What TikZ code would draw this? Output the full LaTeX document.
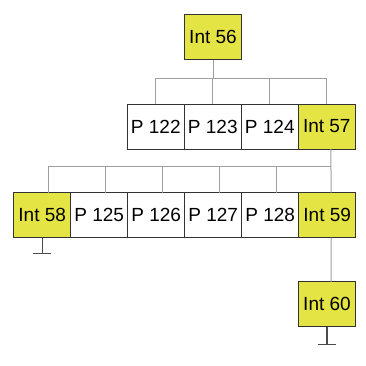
\documentclass[tikz,border=0pt]{standalone}
\usepackage{fontspec}
\setmainfont{Liberation Sans}
\usetikzlibrary{positioning}

\definecolor{intyellow}{HTML}{E4E444}
\tikzset{
  cell/.style={draw=black!80, line width=0.9pt, minimum width=57pt, minimum height=45pt,
    inner sep=0pt, outer sep=0pt, font=\fontsize{19}{19}\selectfont},
  intcell/.style={cell, fill=intyellow},
  pcell/.style={cell, fill=white},
  link/.style={draw=black!38, line width=1pt},
  ground/.style={draw=black!70, line width=1.3pt},
}

\begin{document}
\begin{tikzpicture}[x=1pt, y=-1pt, node distance=0pt]
    \useasboundingbox (0,0) rectangle (366,365);
    % top level
    \node[intcell] (int56) at (213,37) {Int 56};
    % second row
    \node[pcell] (p122) at (155.8,126.5) {P 122};
    \node[pcell, right=of p122] (p123) {P 123};
    \node[pcell, right=of p123] (p124) {P 124};
    \node[intcell, right=of p124] (int57) {Int 57};
    % third row
    \node[intcell] (int58) at (42.2,215.2) {Int 58};
    \node[pcell, right=of int58] (p125) {P 125};
    \node[pcell, right=of p125] (p126) {P 126};
    \node[pcell, right=of p126] (p127) {P 127};
    \node[pcell, right=of p127] (p128) {P 128};
    \node[intcell, right=of p128] (int59) {Int 59};
    % last one
    \node[intcell] (int60) at (327,304.3) {Int 60};

    % links from Int 56
    \coordinate (busA) at (213,78);
    \draw[link] (int56.south) -- (busA);
    \draw[link] (busA -| p122.north) -- (busA -| int57.north);
    \foreach \n in {p122,p123,p124,int57}
        \draw[link] (busA -| \n.north) -- (\n.north);

    % links from Int 57
    \foreach \n in {int58,p125,p126,p127,p128}
        \coordinate (\n-in) at ([xshift=6pt]\n.north);
    \coordinate (int59-in) at ([xshift=4pt]int59.north);
    \coordinate (int57-out) at ([xshift=4pt]int57.south);
    \coordinate (busB) at (0,166);
    \draw[link] (int57-out) -- (int59-in);
    \draw[link] (busB -| int58-in) -- (busB -| int59-in);
    \foreach \n in {int58,p125,p126,p127,p128}
        \draw[link] (busB -| \n-in) -- (\n-in);

    % Int 59 down to Int 60
    \coordinate (int59-out) at ([xshift=4pt]int59.south);
    \coordinate (int60-in) at ([xshift=4pt]int60.north);
    \draw[link] (int59-out) -- (int60-in);

    % grounds
    \draw[ground] (int58.south) -- ++(0,16) coordinate (g58);
    \draw[ground] ([xshift=-9pt]g58) -- ([xshift=9pt]g58);
    \draw[ground] (int60.south) -- ++(0,18) coordinate (g60);
    \draw[ground] ([xshift=-9pt]g60) -- ([xshift=9pt]g60);
\end{tikzpicture}
\end{document}
